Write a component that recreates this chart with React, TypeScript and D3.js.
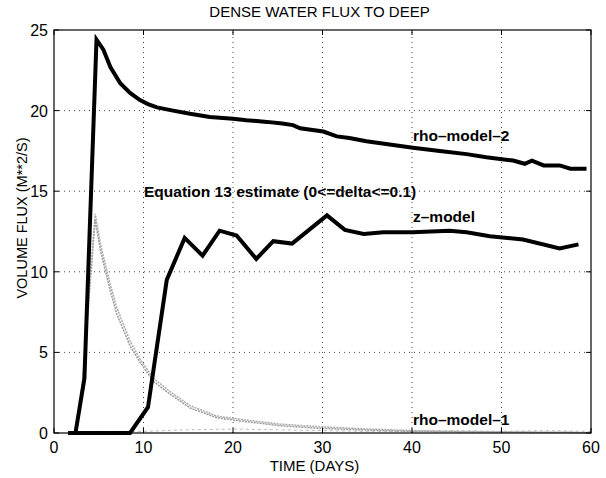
import React from "react";
import * as d3 from "d3";

const W = 606;
const H = 478;
const M = { left: 54, right: 15, top: 30, bottom: 45 };

const xTicks = [0, 10, 20, 30, 40, 50, 60];
const yTicks = [0, 5, 10, 15, 20, 25];

const rho2Days = [1.6, 2.4, 3.4, 4.75, 5.5, 6.3, 7.4, 8.5, 9.6, 10.5, 11.5, 13.3, 15.2, 17.4, 20.0, 21.5, 23.8, 25.5, 26.7, 27.5, 30.1, 31.6, 33.0, 34.9, 37.5, 40.1, 43.1, 46.1, 48.3, 51.3, 52.6, 53.4, 54.7, 56.5, 57.7, 59.5];
const rho2Vals = [0, 0, 3.4, 24.4, 23.8, 22.7, 21.7, 21.1, 20.65, 20.4, 20.2, 20.0, 19.8, 19.6, 19.5, 19.4, 19.3, 19.2, 19.1, 18.9, 18.7, 18.4, 18.3, 18.1, 17.9, 17.7, 17.5, 17.3, 17.1, 16.9, 16.7, 16.9, 16.6, 16.6, 16.4, 16.4];

const zDays = [1.6, 8.5, 10.5, 12.6, 14.6, 16.6, 18.5, 20.4, 22.6, 24.5, 26.6, 30.5, 32.5, 34.6, 36.8, 40.1, 44.2, 46.1, 48.7, 52.4, 56.5, 58.6];
const zVals = [0, 0, 1.6, 9.5, 12.1, 11.0, 12.55, 12.25, 10.8, 11.9, 11.75, 13.5, 12.6, 12.35, 12.45, 12.45, 12.55, 12.45, 12.2, 12.0, 11.45, 11.7];

const eqDays = [2.5, 3.2, 4.0, 4.6, 5.2, 6.3, 7.0, 8.5, 9.6, 11.1, 13.0, 15.2, 18.2, 20.8, 25.3, 29.4, 35, 40, 45, 50, 55, 60];
const eqLowVals = [0, 3, 9, 13.2, 11.3, 8.8, 7.4, 5.4, 4.4, 3.2, 2.4, 1.55, 0.95, 0.75, 0.45, 0.3, 0.18, 0.1, 0.07, 0.05, 0.03, 0.02];
const eqHighVals = [0, 3.3, 9.4, 13.6, 11.7, 9.2, 7.8, 5.7, 4.6, 3.4, 2.55, 1.7, 1.05, 0.85, 0.55, 0.4, 0.25, 0.15, 0.1, 0.07, 0.05, 0.03];

const rho1Days = [2, 5, 10, 15, 20, 25, 30, 35, 40, 45, 50, 55, 60];
const rho1Vals = [0, 0.1, 0.1, 0.2, 0.25, 0.2, 0.15, 0.1, 0.1, 0.15, 0.1, 0.15, 0.1];

const title = "DENSE WATER FLUX TO DEEP";
const xLabel = "TIME (DAYS)";
const yLabel = "VOLUME FLUX (M**2/S)";

export default function App() {
  const x = d3.scaleLinear().domain([0, 60]).range([M.left, W - M.right]);
  const y = d3.scaleLinear().domain([0, 25]).range([H - M.bottom, M.top]);
  const line = (days: number[], vals: number[]) =>
    d3.line<number>().x((_, i) => x(days[i])).y((v) => y(v))(vals) || "";

  const font = "'Liberation Sans', Arial, Helvetica, sans-serif";
  const x0 = x(0), x1 = x(60), y0 = y(0), y1 = y(25);
  const tl = 5;

  return (
    <svg width={W} height={H} style={{ position: "absolute", left: 0, top: 0, background: "#fff" }} fontFamily={font}>
      {/* grid */}
      {xTicks.slice(1, -1).map((t) => (
        <line key={"gx" + t} x1={x(t)} x2={x(t)} y1={y0} y2={y1} stroke="#444" strokeWidth={1} strokeDasharray="1,4" />
      ))}
      {yTicks.slice(1, -1).map((t) => (
        <line key={"gy" + t} x1={x0} x2={x1} y1={y(t)} y2={y(t)} stroke="#444" strokeWidth={1} strokeDasharray="1,4" />
      ))}
      {/* gray curves */}
      <path d={line(rho1Days, rho1Vals)} fill="none" stroke="#bbb" strokeWidth={1} strokeDasharray="3,3" />
      <path d={line(eqDays, eqLowVals)} fill="none" stroke="#999" strokeWidth={1.5} strokeDasharray="2,1" />
      <path d={line(eqDays, eqHighVals)} fill="none" stroke="#aaa" strokeWidth={1.5} strokeDasharray="2,1" />
      {/* black curves */}
      <path d={line(zDays, zVals)} fill="none" stroke="#000" strokeWidth={4} strokeLinejoin="miter" />
      <path d={line(rho2Days, rho2Vals)} fill="none" stroke="#000" strokeWidth={4} strokeLinejoin="miter" />
      {/* frame */}
      <rect x={x0} y={y1} width={x1 - x0} height={y0 - y1} fill="none" stroke="#000" strokeWidth={1.2} />
      {xTicks.map((t) => (
        <g key={"tx" + t}>
          <line x1={x(t)} x2={x(t)} y1={y0} y2={y0 - tl} stroke="#000" />
          <line x1={x(t)} x2={x(t)} y1={y1} y2={y1 + tl} stroke="#000" />
          <text x={x(t)} y={y0 + 20} fontSize={16} textAnchor="middle">{t}</text>
        </g>
      ))}
      {yTicks.map((t) => (
        <g key={"ty" + t}>
          <line x1={x0} x2={x0 + tl} y1={y(t)} y2={y(t)} stroke="#000" />
          <line x1={x1} x2={x1 - tl} y1={y(t)} y2={y(t)} stroke="#000" />
          <text x={x0 - 6} y={y(t) + 6} fontSize={16} textAnchor="end">{t}</text>
        </g>
      ))}
      <text x={(x0 + x1) / 2 - 3} y={17} fontSize={15} textAnchor="middle">{title}</text>
      <text x={(x0 + x1) / 2 - 8} y={471} fontSize={15} textAnchor="middle">{xLabel}</text>
      <text transform={`translate(27,218) rotate(-90)`} fontSize={14.5} textAnchor="middle">{yLabel}</text>
      {/* annotations */}
      <text x={413} y={141} fontSize={15.5} fontWeight="bold">rho–model–2</text>
      <text x={144} y={197} fontSize={15.5} fontWeight="bold">Equation 13 estimate (0&lt;=delta&lt;=0.1)</text>
      <text x={413} y={222} fontSize={15.5} fontWeight="bold">z–model</text>
      <text x={413} y={425} fontSize={15.5} fontWeight="bold">rho–model–1</text>
    </svg>
  );
}
